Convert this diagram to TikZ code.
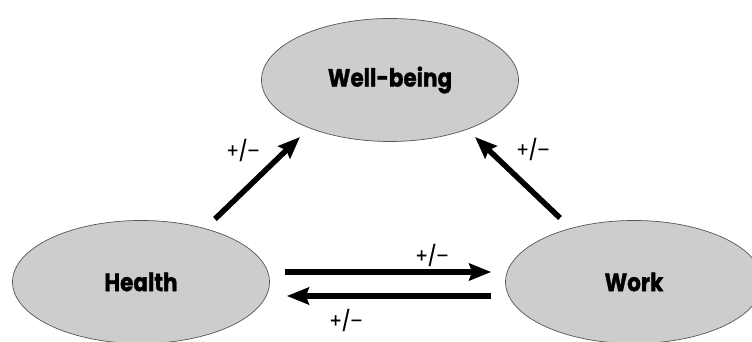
\documentclass[tikz,border=0pt]{standalone}
\usepackage{fontspec}
\setmainfont{Poppins}
\newfontfamily\boldlab[FakeStretch=0.86,FakeBold=1.2]{Poppins Bold}
\newfontfamily\pmfont[FakeStretch=0.9,FakeBold=0.8]{Poppins}
\usetikzlibrary{shapes.geometric,arrows.meta,calc}
\definecolor{ellfill}{HTML}{CDCDCD}
\definecolor{ellline}{HTML}{555555}
\tikzset{
  ell/.style={ellipse, draw=ellline, line width=0.7pt, fill=ellfill,
    minimum width=257pt, minimum height=123pt, inner sep=0pt,
    font=\boldlab\fontsize{25}{29}\selectfont},
  arr/.style={line width=5.5pt, -{Stealth[length=22pt,width=17pt,inset=3pt]}},
  pm/.style={font=\pmfont\fontsize{20}{24}\selectfont, inner sep=0pt}
}
\begin{document}
\begin{tikzpicture}[x=1pt,y=1pt]
\useasboundingbox (0,0) rectangle (752,342);
\node[ell] (wb) at (390,262) {Well-being};
\node[ell] (h) at (141,60) {Health};
\node[ell] (w) at (634,60) {Work};
\coordinate (t1) at ($(h.center)+(74,63)$);
\coordinate (e1) at ($(wb.center)+(-90,-57)$);
\coordinate (t2) at ($(w.center)+(-74,64)$);
\coordinate (e2) at ($(wb.center)+(85,-57)$);
\coordinate (t3) at ($(h.east)+(15,10)$);
\coordinate (e3) at ($(w.west)+(-14,10)$);
\coordinate (t4) at ($(w.west)+(-14,-14)$);
\coordinate (e4) at ($(h.east)+(17,-14)$);
\draw[arr] (t1) -- (e1);
\draw[arr] (t2) -- (e2);
\draw[arr] (t3) -- (e3);
\draw[arr] (t4) -- (e4);
\node[pm] (l1) at (243,192) {+/–};
\node[pm] (l2) at (533,193) {+/–};
\node[pm] (l3) at (432,87) {+/–};
\node[pm] (l4) at (346,22) {+/–};
\end{tikzpicture}
\end{document}
